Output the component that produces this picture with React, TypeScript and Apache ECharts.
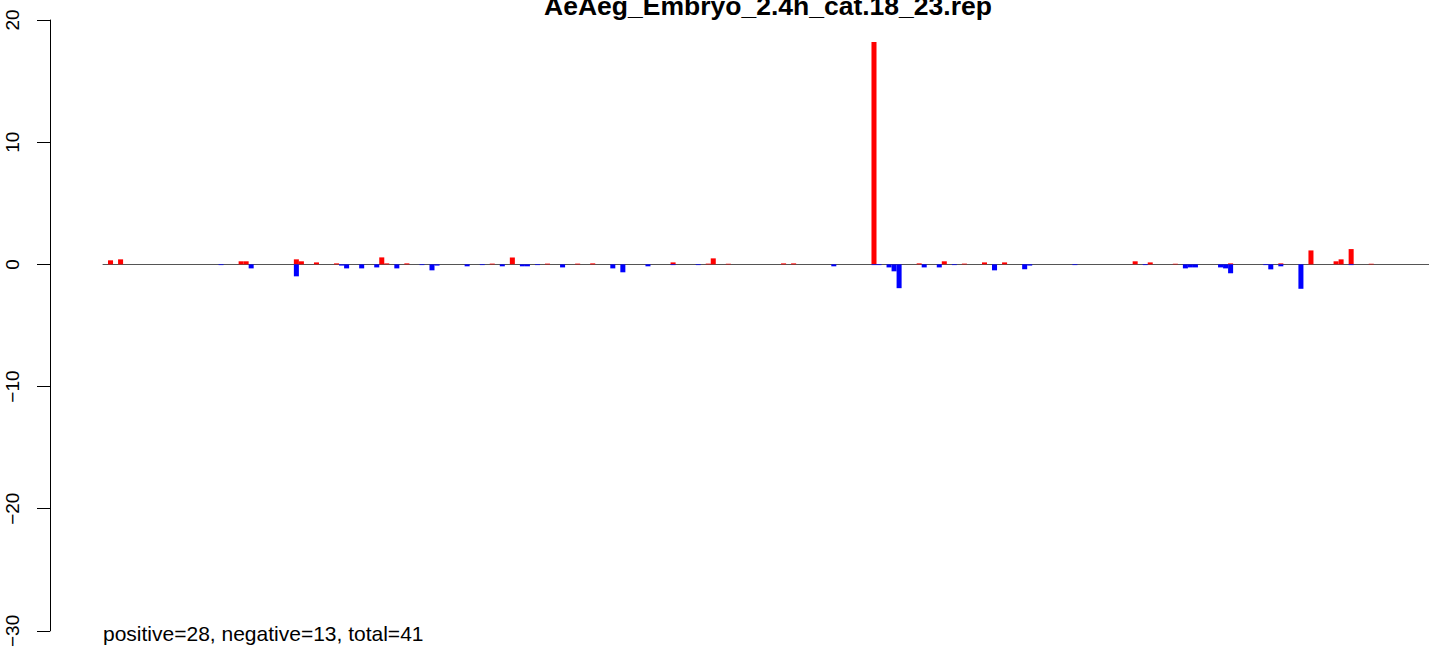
import React, { useEffect, useRef } from "react";
import * as echarts from "echarts";

const TITLE = "AeAeg_Embryo_2.4h_cat.18_23.rep";
const FOOTNOTE = "positive=28, negative=13, total=41";
const BAR_COUNT = 264;
const Y_TICKS = [-30, -20, -10, 0, 10, 20];

// [bar index, value] (all other bars are empty)
const positiveBars: [number, number][] = [
  [1, 0.33], [3, 0.41], [27, 0.25], [28, 0.25], [38, 0.41], [39, 0.25], [42, 0.16],
  [46, 0.08], [55, 0.57], [56, 0.08], [60, 0.08], [77, 0.06], [81, 0.57], [88, 0.06],
  [94, 0.06], [97, 0.08], [113, 0.16], [120, 0.06], [121, 0.49], [124, 0.05],
  [135, 0.08], [137, 0.08], [153, 18.2], [162, 0.08], [167, 0.25], [171, 0.06],
  [175, 0.16], [179, 0.16], [205, 0.25], [208, 0.16], [213, 0.05], [224, 0.08],
  [234, 0.08], [240, 1.14], [245, 0.25], [246, 0.41], [248, 1.25], [252, 0.05],
];

const negativeBars: [number, number][] = [
  [23, -0.06], [29, -0.33], [38, -0.98], [47, -0.1], [48, -0.33], [51, -0.33],
  [54, -0.25], [58, -0.33], [63, -0.06], [65, -0.49], [66, -0.1], [72, -0.16],
  [75, -0.06], [79, -0.16], [83, -0.16], [84, -0.16], [86, -0.06], [91, -0.25],
  [101, -0.33], [103, -0.65], [108, -0.16], [113, -0.06], [118, -0.06], [145, -0.16],
  [153, -0.06], [154, -0.06], [156, -0.25], [157, -0.57], [158, -1.95], [163, -0.25],
  [166, -0.25], [169, -0.06], [177, -0.49], [183, -0.41], [184, -0.1], [193, -0.06],
  [207, -0.06], [215, -0.33], [216, -0.25], [217, -0.25], [222, -0.25], [223, -0.33],
  [224, -0.73], [231, -0.06], [232, -0.41], [234, -0.16], [238, -2.0], [248, -0.06],
];

const categories = Array.from({ length: BAR_COUNT }, (_, i) => String(i + 1));

function toDense(list: [number, number][]): (number | null)[] {
  const arr: (number | null)[] = new Array(BAR_COUNT).fill(null);
  list.forEach(([i, v]) => {
    arr[i] = v;
  });
  return arr;
}

export default function App() {
  const ref = useRef<HTMLDivElement>(null);

  useEffect(() => {
    if (!ref.current) return;
    const chart = echarts.init(ref.current, null, { renderer: "svg" });
    const font = "'Liberation Sans', Arial, Helvetica, sans-serif";
    chart.setOption({
      animation: false,
      backgroundColor: "#ffffff",
      grid: { left: 103, top: 20, width: 1327, height: 613.7, containLabel: false },
      xAxis: {
        type: "category",
        data: categories,
        axisLine: { show: true, onZero: true, lineStyle: { color: "#555555", width: 1 } },
        axisTick: { show: false },
        axisLabel: { show: false },
        splitLine: { show: false },
      },
      yAxis: {
        type: "value",
        min: Y_TICKS[0],
        max: Y_TICKS[Y_TICKS.length - 1],
        interval: 10,
        position: "left",
        offset: 53,
        axisLine: { show: true, lineStyle: { color: "#000000", width: 1 } },
        axisTick: { show: true, length: 13, inside: false, lineStyle: { color: "#000000", width: 1 } },
        axisLabel: {
          rotate: 90,
          margin: 28,
          fontSize: 19,
          color: "#000000",
          fontFamily: font,
          formatter: (v: number) => String(v).replace("-", "\u2212"),
        },
        splitLine: { show: false },
      },
      series: [
        {
          type: "bar",
          name: "positive",
          stack: "s",
          data: toDense(positiveBars),
          barCategoryGap: "0%",
          itemStyle: { color: "#FF0000" },
          silent: true,
        },
        {
          type: "bar",
          name: "negative",
          stack: "s",
          data: toDense(negativeBars),
          barCategoryGap: "0%",
          itemStyle: { color: "#0000FF" },
          silent: true,
        },
      ],
      graphic: [
        {
          type: "text",
          x: 768,
          y: 5.5,
          style: {
            text: TITLE,
            font: `bold 26.5px ${font}`,
            fill: "#000000",
            textAlign: "center",
            textVerticalAlign: "middle",
          },
        },
        {
          type: "text",
          x: 103,
          y: 633.6,
          style: {
            text: FOOTNOTE,
            font: `21px ${font}`,
            fill: "#000000",
            textAlign: "left",
            textVerticalAlign: "middle",
          },
        },
      ],
    });
    return () => chart.dispose();
  }, []);

  return (
    <div
      ref={ref}
      style={{ position: "fixed", left: 0, top: 0, width: 1429, height: 650, background: "#fff" }}
    />
  );
}
